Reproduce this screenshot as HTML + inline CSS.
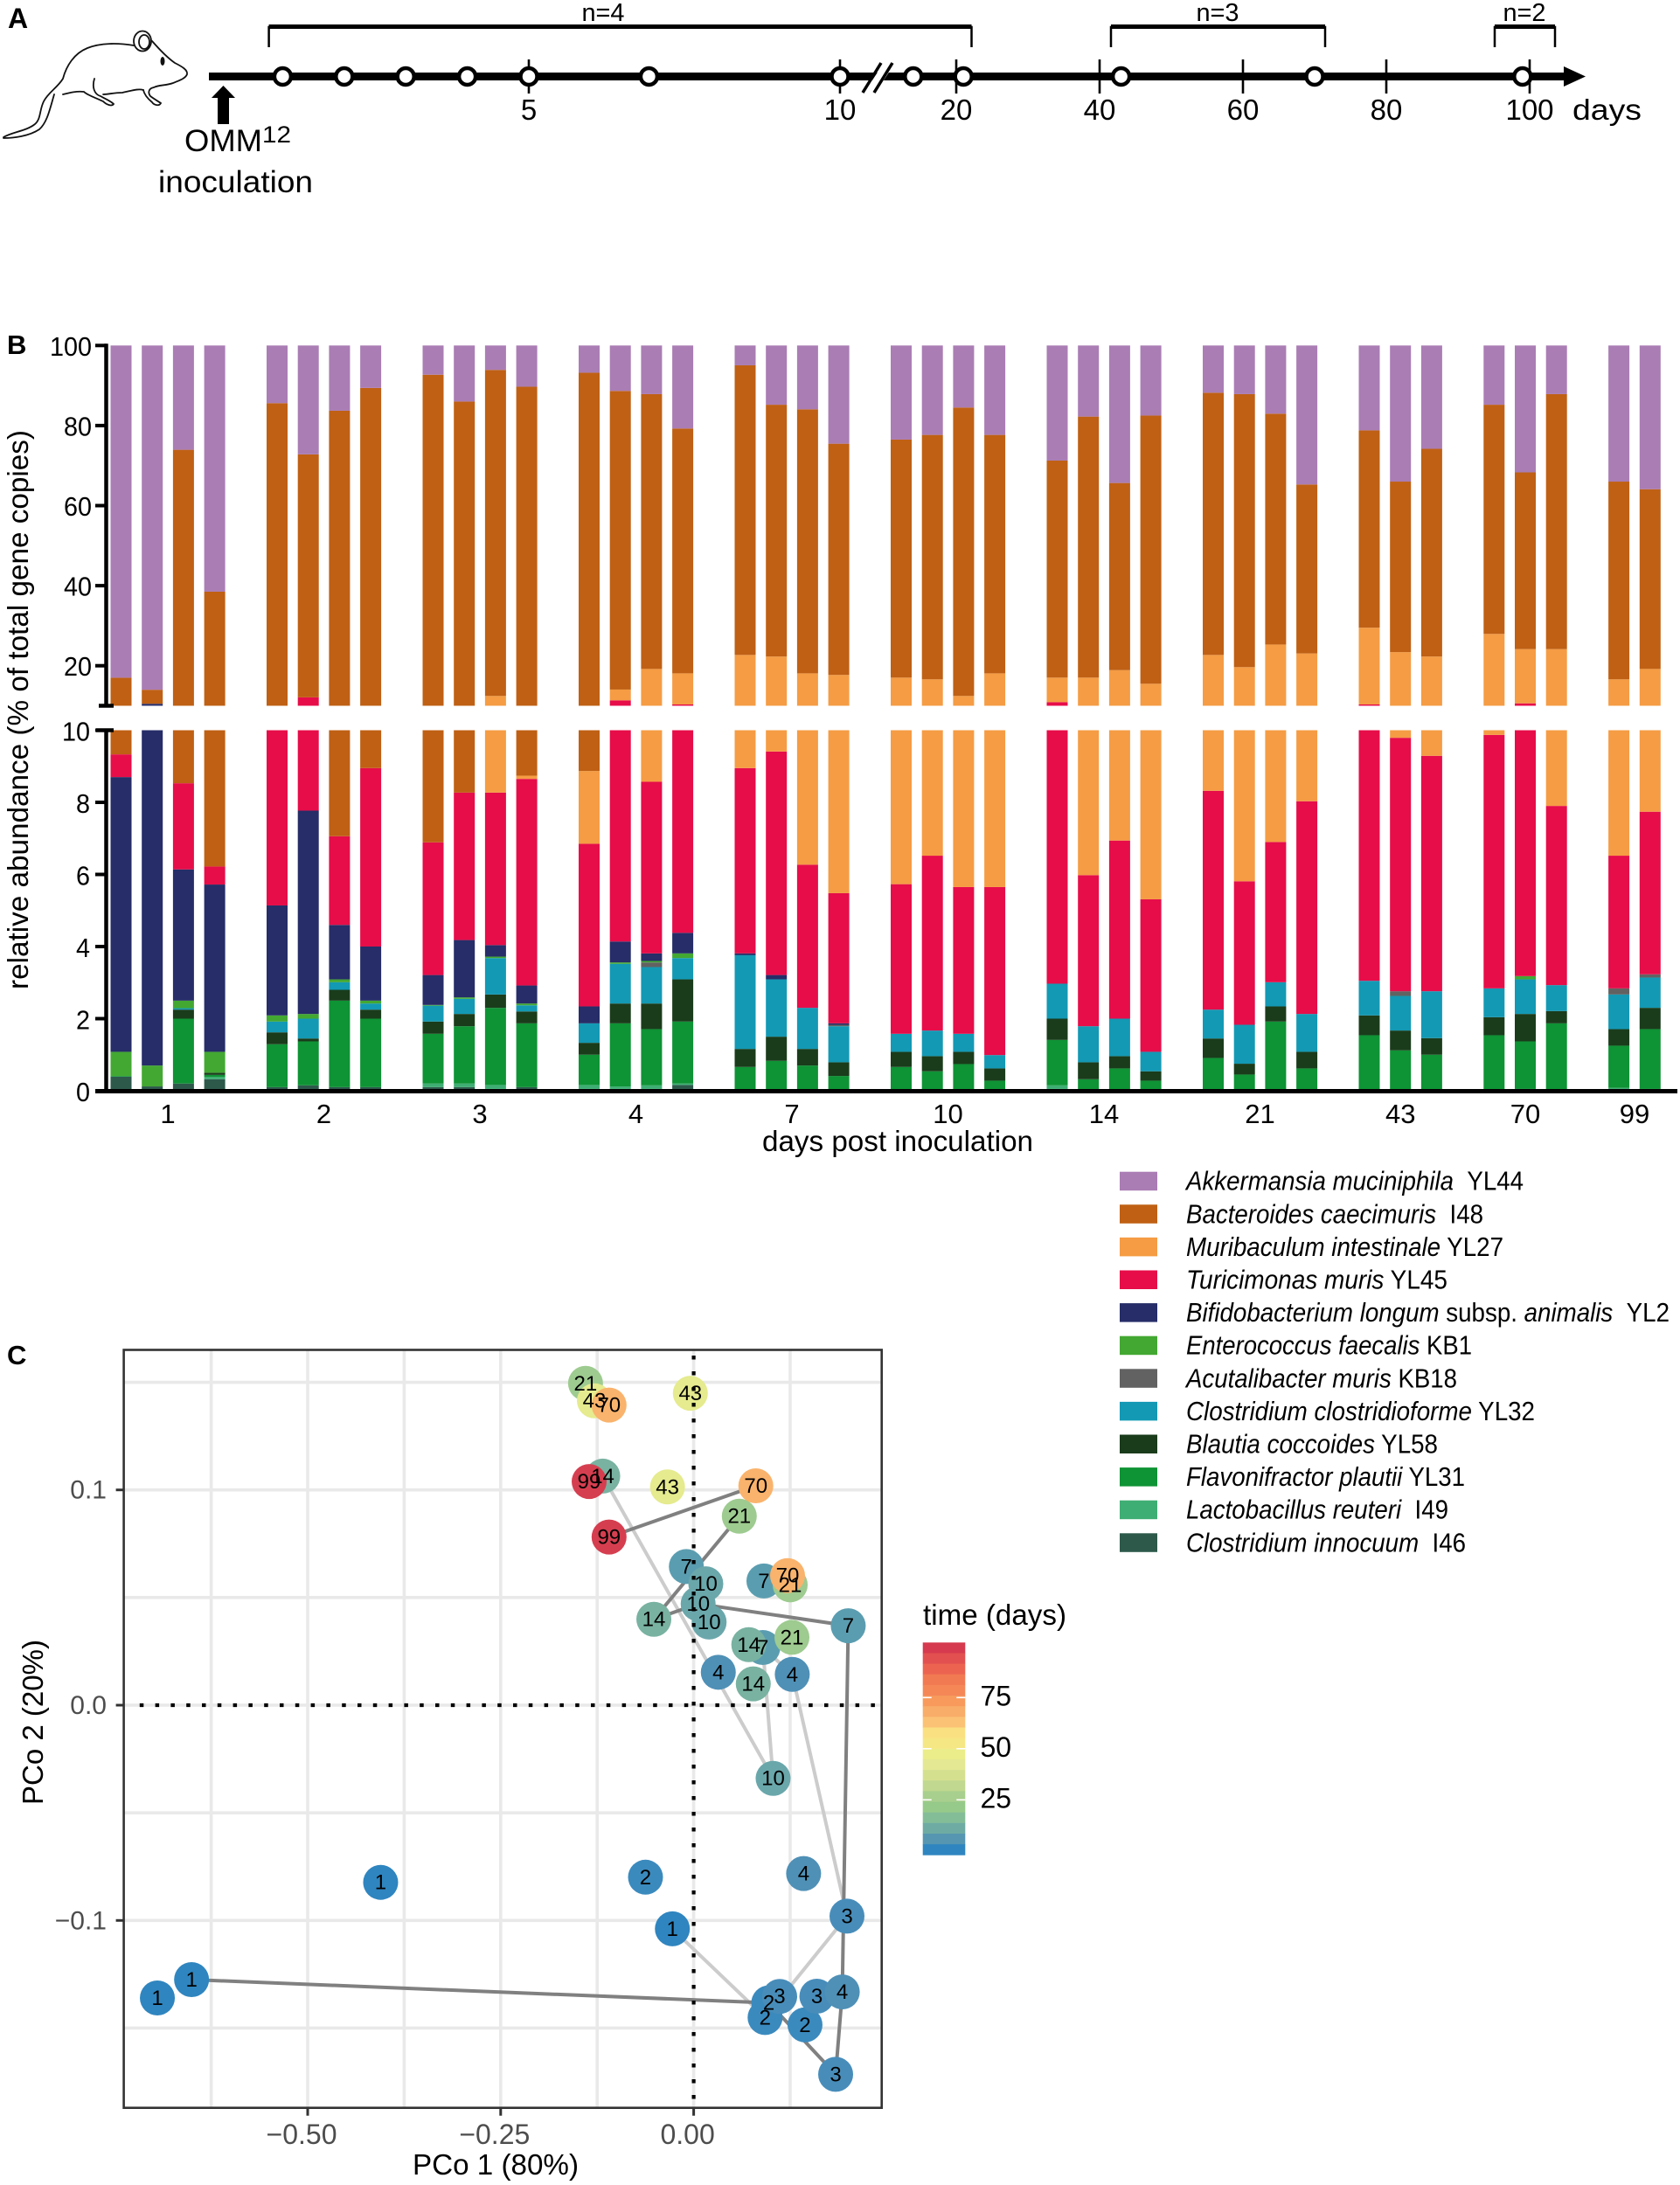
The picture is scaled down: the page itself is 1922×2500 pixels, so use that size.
<!DOCTYPE html>
<html lang="en">
<head>
<meta charset="utf-8">
<title>OMM12 colonization time course</title>
<style>
  html,body{margin:0;padding:0;background:#fff;}
  svg{display:block;font-family:"Liberation Sans",Arial,sans-serif;}
</style>
</head>
<body>
<svg id="figure" xmlns="http://www.w3.org/2000/svg" width="1922" height="2500" viewBox="0 0 1922 2500">
  <rect x="0" y="0" width="1922" height="2500" fill="#fff"/>

  <!-- Panel A -->
  <g id="panelA">
    <text x="9" y="32" font-size="32" font-weight="bold">A</text>
    <g fill="none" stroke="#111" stroke-width="1.8" stroke-linecap="round">
      <path d="M153 52 C135 49 115 49 100 55 C85 61 76 75 72 90 C66 100 55 106 50 116 C45 126 47 136 40 142 C30 150 14 151 4 157"/>
      <path d="M62 108 C57 125 54 140 45 148 C33 156 15 158 4 158"/>
      <path d="M174 47 C181 55 190 65 200 72 C208 76 215 80 214 85 C212 90 205 92 198 95 C190 98 182 97 176 100 C170 101 169 106 172 110 C176 113 181 116 184 118 C182 122 176 120 174 117 C168 112 165 108 164 103"/>
      <path d="M108 90 C105 100 108 108 115 110 C120 113 126 115 130 119 C128 122 122 120 118 116 C110 112 100 109 96 105 C88 104 80 106 72 108"/>
      <path d="M164 103 C158 101 150 104 140 106 C130 106 124 108 118 108"/>
      <ellipse cx="163" cy="47" rx="10" ry="11.5"/>
      <ellipse cx="165" cy="48" rx="6" ry="8"/>
      <ellipse cx="186" cy="70" rx="2.5" ry="5" fill="#111" stroke="none"/>
    </g>
    <g id="timeline"></g>
    <g>
      <rect x="249" y="108" width="13" height="34" fill="#000"/>
      <polygon points="255.5,98 242,112 269,112" fill="#000"/>
    </g>
    <text x="211" y="173" font-size="35" textLength="89" lengthAdjust="spacingAndGlyphs">OMM</text>
    <text x="300" y="163" font-size="27" textLength="33" lengthAdjust="spacingAndGlyphs">12</text>
    <text x="181" y="220" font-size="35" textLength="177" lengthAdjust="spacingAndGlyphs">inoculation</text>
    <text x="1799" y="137" font-size="33" textLength="79" lengthAdjust="spacingAndGlyphs">days</text>

    <g fill="none" stroke="#000">
      <path d="M307.6 54 V31 H1111.5 V54" stroke-width="2.5"/>
      <path d="M307.6 30.5 H1111.5" stroke-width="5"/>
    </g>
    <text x="665.5" y="24" font-size="29" textLength="49" lengthAdjust="spacingAndGlyphs">n=4</text>
    <g fill="none" stroke="#000">
      <path d="M1271 54 V31 H1516 V54" stroke-width="2.5"/>
      <path d="M1271 30.5 H1516" stroke-width="5"/>
    </g>
    <text x="1368.5" y="24" font-size="29" textLength="49" lengthAdjust="spacingAndGlyphs">n=3</text>
    <g fill="none" stroke="#000">
      <path d="M1710 54 V31 H1779 V54" stroke-width="2.5"/>
      <path d="M1710 30.5 H1779" stroke-width="5"/>
    </g>
    <text x="1719.5" y="24" font-size="29" textLength="49" lengthAdjust="spacingAndGlyphs">n=2</text>
  </g>

  <!-- Panel B -->
  <text x="8" y="405" font-size="31" font-weight="bold">B</text>
  <g id="bars"></g>
  <g id="axesB"></g>
  <text transform="translate(32,1132) rotate(-90)" font-size="33" textLength="640" lengthAdjust="spacingAndGlyphs">relative abundance (% of total gene copies)</text>
  <text x="872" y="1317" font-size="33" textLength="310" lengthAdjust="spacingAndGlyphs">days post inoculation</text>

  <!-- Legend -->
  <g font-size="31">
    <g><rect x="1281" y="1340.7" width="43" height="21.5" fill="#aa7db4"/><text x="1357" y="1361.7" textLength="386" lengthAdjust="spacingAndGlyphs"><tspan font-style="italic">Akkermansia muciniphila</tspan>&#160;&#160;YL44</text></g>
    <g><rect x="1281" y="1378.3" width="43" height="21.5" fill="#bf6014"/><text x="1357" y="1399.3" textLength="340" lengthAdjust="spacingAndGlyphs"><tspan font-style="italic">Bacteroides caecimuris</tspan>&#160;&#160;I48</text></g>
    <g><rect x="1281" y="1415.9" width="43" height="21.5" fill="#f59c44"/><text x="1357" y="1436.9" textLength="363" lengthAdjust="spacingAndGlyphs"><tspan font-style="italic">Muribaculum intestinale</tspan> YL27</text></g>
    <g><rect x="1281" y="1453.5" width="43" height="21.5" fill="#e60d49"/><text x="1357" y="1474.5" textLength="299" lengthAdjust="spacingAndGlyphs"><tspan font-style="italic">Turicimonas muris</tspan> YL45</text></g>
    <g><rect x="1281" y="1491.1" width="43" height="21.5" fill="#262d68"/><text x="1357" y="1512.1" textLength="553" lengthAdjust="spacingAndGlyphs"><tspan font-style="italic">Bifidobacterium longum</tspan> subsp. <tspan font-style="italic">animalis</tspan>&#160;&#160;YL2</text></g>
    <g><rect x="1281" y="1528.7" width="43" height="21.5" fill="#43a832"/><text x="1357" y="1549.7" textLength="327" lengthAdjust="spacingAndGlyphs"><tspan font-style="italic">Enterococcus faecalis</tspan> KB1</text></g>
    <g><rect x="1281" y="1566.3" width="43" height="21.5" fill="#626262"/><text x="1357" y="1587.3" textLength="310" lengthAdjust="spacingAndGlyphs"><tspan font-style="italic">Acutalibacter muris</tspan> KB18</text></g>
    <g><rect x="1281" y="1603.9" width="43" height="21.5" fill="#1399b4"/><text x="1357" y="1624.9" textLength="399" lengthAdjust="spacingAndGlyphs"><tspan font-style="italic">Clostridium clostridioforme</tspan> YL32</text></g>
    <g><rect x="1281" y="1641.5" width="43" height="21.5" fill="#1a3c1b"/><text x="1357" y="1662.5" textLength="288" lengthAdjust="spacingAndGlyphs"><tspan font-style="italic">Blautia coccoides</tspan> YL58</text></g>
    <g><rect x="1281" y="1679.1" width="43" height="21.5" fill="#0e9335"/><text x="1357" y="1700.1" textLength="319" lengthAdjust="spacingAndGlyphs"><tspan font-style="italic">Flavonifractor plautii</tspan> YL31</text></g>
    <g><rect x="1281" y="1716.7" width="43" height="21.5" fill="#3fae74"/><text x="1357" y="1737.7" textLength="300" lengthAdjust="spacingAndGlyphs"><tspan font-style="italic">Lactobacillus reuteri</tspan>&#160;&#160;I49</text></g>
    <g><rect x="1281" y="1754.3" width="43" height="21.5" fill="#2d594b"/><text x="1357" y="1775.3" textLength="320" lengthAdjust="spacingAndGlyphs"><tspan font-style="italic">Clostridium innocuum</tspan>&#160;&#160;I46</text></g>
  </g>

  <!-- Panel C -->
  <text x="8" y="1561" font-size="31" font-weight="bold">C</text>
  <g id="pcoa"></g>
  <text x="472" y="2488" font-size="33" textLength="190" lengthAdjust="spacingAndGlyphs">PCo 1 (80%)</text>
  <text transform="translate(49,2065) rotate(-90)" font-size="33" textLength="189" lengthAdjust="spacingAndGlyphs">PCo 2 (20%)</text>

  <!-- Colour bar -->
  <text x="1056" y="1859" font-size="33" textLength="164" lengthAdjust="spacingAndGlyphs">time (days)</text>
  <g id="colorbar"></g>
</svg>

<script>
// ---------- Panel A data ----------
const timelineTickDays = [5, 10, 20, 40, 60, 80, 100];
const timelineSampleDays = [1, 2, 3, 4, 5, 6.93, 10, 14, 21, 43, 70, 99];

// ---------- Panel B data ----------
const groupDays = [1, 2, 3, 4, 7, 10, 14, 21, 43, 70, 99];
const groupSizes = [4, 4, 4, 4, 4, 4, 4, 4, 3, 3, 2];
const speciesNames = ['innocuum', 'lactobacillus', 'flavonifractor', 'blautia', 'clostridioforme', 'acutalibacter', 'enterococcus', 'bifidobacterium', 'turicimonas', 'muribaculum', 'bacteroides', 'akkermansia'];
const speciesColors = ['#2d594b', '#3fae74', '#0e9335', '#1a3c1b', '#1399b4', '#626262', '#43a832', '#262d68', '#e60d49', '#f59c44', '#bf6014', '#aa7db4'];
const innocuum = [.39,.12,.2,.32, .1,.15,.1,.1, .1,.1,.05,.1, .05,.05,.05,.16, .03,.03,.03,0, 0,0,0,0, .05,0,0,0, 0,0,.03,0, .03,0,0, .03,.05,0, 0,.05];
const lactobacillus = [0,0,0,.06, 0,0,0,0, .1,.1,.11,0, .11,.07,.1,.04, 0,0,0,0, 0,0,0,0, .1,0,.03,0, 0,0,0,0, 0,0,0, 0,0,0, .08,0];
const flavonifractor = [.02,0,1.8,.06, 1.19,1.22,2.4,1.9, 1.38,1.59,2.14,1.77, .84,1.75,1.56,1.72, .63,.8,.67,.41, .66,.54,.74,.28, 1.26,.32,.59,.28, .91,.45,1.89,.62, 1.51,1.12,1, 1.51,1.32,1.87, 1.17,1.66];
const blautia = [0,0,.25,.06, .33,.08,.3,.25, .34,.34,.37,.33, .33,.55,.71,1.17, .5,.67,.46,.38, .42,.42,.34,.34, .59,.47,.34,.26, .54,.3,.42,.46, .55,.55,.46, .5,.76,.34, .46,.59];
const clostridioforme = [0,0,.04,0, .3,.55,.21,.17, .44,.42,1.01,.17, .54,1.1,1.01,.59, 2.6,1.59,1.14,1, .5,.71,.5,.37, .97,1,1.04,.54, .8,1.08,.67,1.05, .96,.96,1.3, .8,.96,.72, .96,.84];
const acutalibacter = [0,0,0,0, 0,0,0,0, 0,0,0,0, 0,0,.13,0, 0,0,0,.04, 0,0,0,0, 0,0,0,0, 0,0,0,0, 0,.13,0, 0,0,0, .17,.09];
const enterococcus = [.67,.58,.21,.58, .17,.13,.08,.08, .02,.04,.04,.05, 0,.04,.04,.13, 0,0,0,0, 0,0,0,0, 0,0,0,0, 0,0,0,0, 0,0,0, 0,.09,0, 0,0];
const bifidobacterium = [7.62,9.8,3.64,4.64, 3.05,5.64,1.51,1.5, .83,1.59,.32,.5, .47,.58,.21,.57, .05,.12,0,.04, 0,0,0,0, 0,0,0,0, 0,0,0,0, 0,0,0, 0,0,0, 0,0];
const turicimonas = [.63,0,2.39,.5, 4.86,4.33,2.46,4.95, 3.68,4.09,4.23,5.73, 4.51,7.21,4.76,5.95, 5.14,6.2,3.97,3.61, 4.15,4.85,4.07,4.66, 7.93,4.19,4.94,4.23, 6.07,3.98,3.89,5.9, 7.28,7.03,6.53, 7.03,7.42,4.97, 3.68,4.51];
const muribaculum = [0,0,0,0, 0,0,0,0, 0,0,4.18,.09, 2.02,2.7,10.63,7.77, 13.75,12.89,11.83,12.22, 11.3,10.08,6.8,12.45, 6.13,11.05,11.96,10.19, 14.38,13.84,18.4,15.04, 19.17,13.61,13.01, 18.08,13.55,16.25, 10.08,11.46];
const bacteroides = [7.67,3.5,65.42,32.28, 75.6,60.7,76.64,80.45, 85.81,77.73,81.45,80.96, 84.33,74.6,68.65,61.16, 72.35,62.9,65.96,57.77, 59.47,61.06,72.05,59.56, 54.22,65.21,46.75,67, 65.5,68.2,57.67,42.21, 49.3,42.6,51.9, 57.25,44.15,63.7, 49.4,44.9];
const akkermansia = [83,86,26.05,61.5, 14.4,27.2,16.3,10.6, 7.3,14,6.1,10.3, 6.8,11.35,12.15,20.74, 4.95,14.8,15.94,24.53, 23.5,22.34,15.5,22.34, 28.75,17.76,34.35,17.5, 11.8,12.15,17.03,34.72, 21.2,34,25.8, 14.8,31.7,12.15, 34,35.9];
const upperTicks = [20, 40, 60, 80, 100];
const lowerTicks = [0, 2, 4, 6, 8, 10];

// ---------- Panel C data ----------
const pcoDay = [21,43,70,43,14,99,43,70,21,99,7,10,7,70,21,10,10,14,7,21,14,7,4,4,14,10,2,4,3,1,3,2,2,3,4,2,3,1,1,1];
const pco1 = [-.1401,-.1286,-.1096,-.0043,-.1178,-.1354,-.0339,.0805,.0591,-.1096,-.0095,.0157,.0910,.1216,.1250,.0058,.0200,-.0516,.2002,.1273,.0714,.0896,.0319,.1277,.0772,.1029,-.0624,.1424,.1986,-.0276,.1114,.0973,.0925,.1596,.1925,.1442,.1839,-.4055,-.6504,-.6947];
const pco2 = [.1495,.1414,.1394,.1449,.1064,.1039,.1014,.1019,.0878,.0781,.0644,.0564,.0577,.0602,.0559,.0471,.0386,.0399,.0369,.0315,.0281,.0268,.0153,.0143,.0099,-.0340,-.0799,-.0782,-.0980,-.1039,-.1353,-.1383,-.1451,-.1352,-.1332,-.1485,-.1715,-.0823,-.1275,-.1360];
const darkTrajectory = [38,31,36,34,18,15,17,8,7,9];
const lightTrajectory = [29,32,28,23,21,25,4,5];
const pcoXTicks = [-0.5, -0.25, 0];
const pcoYTicks = [-0.1, 0, 0.1];
const pcoXGrid = [-0.625, -0.5, -0.375, -0.25, -0.125, 0, 0.125];
const pcoYGrid = [-0.15, -0.1, -0.05, 0, 0.05, 0.1, 0.15];
const timeStops = [1, 2, 3, 4, 7, 10, 14, 21, 43, 70, 99];
const timeColors = ['#2f85bf', '#3b8abe', '#488dba', '#4f90b6', '#5b9db0', '#6aa7ab', '#79b2a1', '#9ecb90', '#e5eb8e', '#fab36c', '#d53e4f'];
const colorbarBands = ['#d53a4e','#e25050','#ec6450','#f27a52','#f58757','#f79a5c','#f8ad68','#fbc276','#fbe082','#f6e785','#ebed8b','#e4e893','#d5e08f','#c0d88f','#a8cf8d','#96ca8a','#83bd98','#6eaba3','#5696b0','#2f85c0'];
const colorbarTicks = [25, 50, 75];

const NS = 'http://www.w3.org/2000/svg';
function mk(parent, tag, attrs, txt) {
  const el = document.createElementNS(NS, tag);
  for (const k in attrs) el.setAttribute(k, attrs[k]);
  if (txt !== undefined) el.textContent = txt;
  parent.appendChild(el);
  return el;
}

// ---------- Panel A drawing ----------
const tl = document.getElementById('timeline');
function timelineX(d) {
  if (d <= 5) return 605 + (d - 5) * 70.4;
  return d <= 10 ? 605 + (d - 5) * 71.2 : 1094 + (d - 20) * 8.2;
}
let el = mk(tl, 'rect', {x: 239, y: 83, width: 1556, height: 9, fill: '#000'});


el = mk(tl, 'polygon', {points: '1789,76 1814,87.5 1789,99', fill: '#000'});


timelineTickDays.forEach(function (d) {
  const x = timelineX(d);
  const t = mk(tl, 'line', {x1: x, x2: x, y1: 68, y2: 107, stroke: '#000', 'stroke-width': 2.6});
  
  
  const lb = mk(tl, 'text', {x: x, y: 137, 'font-size': 33, 'text-anchor': 'middle'}, String(d));
  
  
});
el = mk(tl, 'polygon', {points: '990,104 1011,72 1024,72 1003,104', fill: '#fff'});


el = mk(tl, 'line', {x1: 987, y1: 106, x2: 1008, y2: 72, stroke: '#000', 'stroke-width': 3.5});


el = mk(tl, 'line', {x1: 1000, y1: 106, x2: 1021, y2: 72, stroke: '#000', 'stroke-width': 3.5});


timelineSampleDays.forEach(function (d) {
  const c = mk(tl, 'circle', {cx: timelineX(d), cy: 87.5, r: 9.5, fill: '#fff', stroke: '#000', 'stroke-width': 4.5});
  
  
});

// ---------- Panel B drawing ----------
const yUpper = function (v) { return 395.3 + (100 - v) * 4.58; };
const yLower = function (v) { return 1248 - v * 41.25; };
const xSlot = function (s) { return 138.5 + s * 35.7; };
const barWidth = 24;
const speciesValues = [innocuum, lactobacillus, flavonifractor, blautia, clostridioforme, acutalibacter, enterococcus, bifidobacterium, turicimonas, muribaculum, bacteroides, akkermansia];
const barsG = document.getElementById('bars');
const axesB = document.getElementById('axesB');

function clampSeg(a, b, lo, hi) { return [Math.max(a, lo), Math.min(b, hi)]; }

let barIndex = 0, slot = 0;
groupDays.forEach(function (day, g) {
  const firstSlot = slot;
  for (let i = 0; i < groupSizes[g]; i++) {
    const cx = xSlot(slot);
    let base = 0;
    speciesValues.forEach(function (series, s) {
      const val = series[barIndex];
      const top = base + val;
      if (val > 0) {
        const up = clampSeg(base, top, 10, 100);
        if (up[1] > up[0]) {
          const r = mk(barsG, 'rect', {x: cx - barWidth / 2, y: yUpper(up[1]), width: barWidth, height: yUpper(up[0]) - yUpper(up[1]), fill: speciesColors[s]});
          
          
        }
        const lo = clampSeg(base, top, 0, 10);
        if (lo[1] > lo[0]) {
          const r2 = mk(barsG, 'rect', {x: cx - barWidth / 2, y: yLower(lo[1]), width: barWidth, height: yLower(lo[0]) - yLower(lo[1]), fill: speciesColors[s]});
          
          
        }
      }
      base = top;
    });
    barIndex++;
    slot++;
  }
  const mid = (xSlot(firstSlot) + xSlot(slot - 1)) / 2;
  const lab = mk(axesB, 'text', {x: mid, y: 1285, 'font-size': 31, 'text-anchor': 'middle'}, String(day));
  
  
  slot++;
});

el = mk(axesB, 'line', {x1: 121.5, x2: 121.5, y1: yUpper(100) - 2, y2: yUpper(10) + 2, stroke: '#000', 'stroke-width': 4.5});


el = mk(axesB, 'line', {x1: 121.5, x2: 121.5, y1: yLower(10) - 2, y2: yLower(0), stroke: '#000', 'stroke-width': 4.5});


el = mk(axesB, 'line', {x1: 109, x2: 1919, y1: 1248.5, y2: 1248.5, stroke: '#000', 'stroke-width': 5});


el = mk(axesB, 'line', {x1: 113, x2: 130, y1: yUpper(10), y2: yUpper(10), stroke: '#000', 'stroke-width': 4.5});


el = mk(axesB, 'line', {x1: 110, x2: 130, y1: yLower(10), y2: yLower(10), stroke: '#000', 'stroke-width': 4.5});


upperTicks.forEach(function (v) {
  const t = mk(axesB, 'line', {x1: 109, x2: 122, y1: yUpper(v), y2: yUpper(v), stroke: '#000', 'stroke-width': 4});
  
  
  const lb = mk(axesB, 'text', {x: 105, y: yUpper(v) + 11.5, 'font-size': 31, 'text-anchor': 'end', textLength: String(v).length * 16, lengthAdjust: 'spacingAndGlyphs'}, String(v));
  
  
});
lowerTicks.forEach(function (v) {
  const t = mk(axesB, 'line', {x1: 109, x2: 122, y1: yLower(v), y2: yLower(v), stroke: '#000', 'stroke-width': 4});
  
  
  const lb = mk(axesB, 'text', {x: 103, y: yLower(v) + 12, 'font-size': 31, 'text-anchor': 'end', textLength: String(v).length * 16, lengthAdjust: 'spacingAndGlyphs'}, String(v));
  
  
});

// ---------- Panel C drawing ----------
const pc = document.getElementById('pcoa');
const xP = function (v) { return 793.6 + v * 883.2; };
const yP = function (v) { return 1951 - v * 2463; };
const frame = {l: 141.6, r: 1008.7, t: 1544.5, b: 2411.7};

function hexToRgb(h) { return [parseInt(h.slice(1, 3), 16), parseInt(h.slice(3, 5), 16), parseInt(h.slice(5, 7), 16)]; }
function colorForDay(d) {
  let k = 0;
  while (k < timeStops.length - 2 && d > timeStops[k + 1]) k++;
  const f = Math.min(1, Math.max(0, (d - timeStops[k]) / (timeStops[k + 1] - timeStops[k])));
  const a = hexToRgb(timeColors[k]), b = hexToRgb(timeColors[k + 1]);
  return 'rgb(' + a.map(function (c, j) { return Math.round(c + (b[j] - c) * f); }).join(',') + ')';
}

pcoXGrid.forEach(function (v) {
  const g = mk(pc, 'line', {x1: xP(v), x2: xP(v), y1: frame.t, y2: frame.b, stroke: '#e9e9e9', 'stroke-width': 3.6});
  
  
});
pcoYGrid.forEach(function (v) {
  const g = mk(pc, 'line', {x1: frame.l, x2: frame.r, y1: yP(v), y2: yP(v), stroke: '#e9e9e9', 'stroke-width': 3.6});
  
  
});

function trajectoryPoints(idx) { return idx.map(function (i) { return xP(pco1[i]) + ',' + yP(pco2[i]); }).join(' '); }
el = mk(pc, 'polyline', {points: trajectoryPoints(lightTrajectory), fill: 'none', stroke: '#cccccc', 'stroke-width': 4});


el = mk(pc, 'polyline', {points: trajectoryPoints(darkTrajectory), fill: 'none', stroke: '#808080', 'stroke-width': 4});



const drawOrder = pcoDay.map(function (d, i) { return i; }).sort(function (a, b) { return pcoDay[a] - pcoDay[b] || a - b; });
drawOrder.forEach(function (i) {
  const c = mk(pc, 'circle', {cx: xP(pco1[i]), cy: yP(pco2[i]), r: 20, fill: colorForDay(pcoDay[i])});
  
  
});

el = mk(pc, 'line', {x1: 159.8, x2: frame.r - 4, y1: yP(0), y2: yP(0), stroke: '#000', 'stroke-width': 4.2, 'stroke-dasharray': '4.5 13.3'});


el = mk(pc, 'line', {x1: xP(0), x2: xP(0), y1: 1551, y2: frame.b, stroke: '#000', 'stroke-width': 4.2, 'stroke-dasharray': '4.5 13.5'});



drawOrder.forEach(function (i) {
  const t = mk(pc, 'text', {x: xP(pco1[i]), y: yP(pco2[i]) + 8, 'font-size': 24, 'text-anchor': 'middle', fill: '#000'}, String(pcoDay[i]));
  
  
});

el = mk(pc, 'rect', {x: frame.l, y: frame.t, width: frame.r - frame.l, height: frame.b - frame.t, fill: 'none', stroke: '#333', 'stroke-width': 2.6});



function fmtX(v) { return (v < 0 ? '\u2212' : '') + Math.abs(v).toFixed(2); }
function fmtY(v) { return (v < 0 ? '\u2212' : '') + Math.abs(v).toFixed(1); }
pcoXTicks.forEach(function (v) {
  const t = mk(pc, 'line', {x1: xP(v), x2: xP(v), y1: frame.b, y2: frame.b + 9, stroke: '#333', 'stroke-width': 3});
  
  
  const lb = mk(pc, 'text', {x: xP(v) - 7, y: 2453, 'font-size': 32, 'text-anchor': 'middle', fill: '#4d4d4d'}, fmtX(v));
  
  
});
pcoYTicks.forEach(function (v) {
  const t = mk(pc, 'line', {x1: frame.l - 9, x2: frame.l, y1: yP(v), y2: yP(v), stroke: '#333', 'stroke-width': 3});
  
  
  const lb = mk(pc, 'text', {x: 122, y: yP(v) + 10, 'font-size': 30, 'text-anchor': 'end', fill: '#4d4d4d'}, fmtY(v));
  
  
});

// ---------- Colour bar ----------
const cb = document.getElementById('colorbar');
const cbTop = 1879.3, cbHeight = 243, cbLeft = 1055.7, cbWidth = 48.6;
const yColor = function (d) { return 2059.3 - (d - 25) * 2.34; };
colorbarBands.forEach(function (col, i) {
  const h = cbHeight / colorbarBands.length;
  const r = mk(cb, 'rect', {x: cbLeft, y: cbTop + i * h, width: cbWidth, height: h + 0.4, fill: col});
  
  
});
colorbarTicks.forEach(function (d) {
  const y = yColor(d);
  const a = mk(cb, 'line', {x1: cbLeft, x2: cbLeft + 10, y1: y, y2: y, stroke: '#fff', 'stroke-width': 1.6});
  
  
  const b = mk(cb, 'line', {x1: cbLeft + cbWidth - 10, x2: cbLeft + cbWidth, y1: y, y2: y, stroke: '#fff', 'stroke-width': 1.6});
  
  
  const lb = mk(cb, 'text', {x: 1121.5, y: y + 9, 'font-size': 32}, String(d));
  
  
});
</script>
</body>
</html>
